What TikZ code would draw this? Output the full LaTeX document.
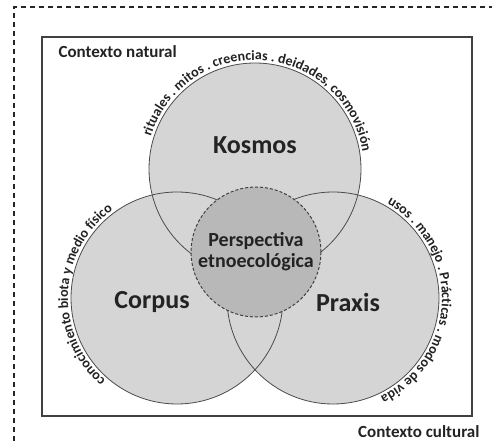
\documentclass[tikz,border=0pt]{standalone}
\usepackage{fontspec}
\setmainfont{Carlito}
\usetikzlibrary{decorations.text}

\definecolor{vennfill}{RGB}{213,213,213}
\definecolor{corefill}{RGB}{184,184,184}
\definecolor{inkgray}{RGB}{35,35,35}

\tikzset{
	venn/.style={circle, fill=vennfill, minimum size=212pt, inner sep=0pt},
	vennline/.style={draw=black!70, line width=0.8pt},
	bigtext/.style={font=\fontsize{26}{26}\selectfont\bfseries, text=inkgray},
	smalltext/.style={font=\fontsize{17}{17}\selectfont\bfseries, text=inkgray},
	arctext/.style={decorate, decoration={text along path, text align=center,
		text={|\fontsize{14}{14}\selectfont\bfseries\color{inkgray}|#1}}}
}

\begin{document}
\begin{tikzpicture}[x=1pt, y=1pt]
		\useasboundingbox (0, 0) rectangle (492, 441);

		% contexts
		\draw [dash pattern=on 5pt off 4pt, line width=1.2pt, black!85] (14, 0)
		-- (14, 434) -- (492, 434);
		\draw [line width=1.4pt, black!75] (42, 25) rectangle (472, 404);
		\node [smalltext, anchor=base west] (natural) at (55, 383)
		{Contexto natural};
		\node [smalltext, anchor=base east] (cultural) at (483, 3)
		{Contexto cultural};

		% three circles
		\node [venn] (kosmos) at (255, 272) {};
		\node [venn] (corpus) at (177, 143) {};
		\node [venn] (praxis) at (333, 143) {};
		\foreach \c in {kosmos, corpus, praxis}
			\draw [vennline] (\c.center) circle [radius=106];

		\node [bigtext] (kosmoslabel) at (255, 296) {Kosmos};
		\node [bigtext] (corpuslabel) at (152, 139) {Corpus};
		\node [bigtext] (praxislabel) at (348, 139) {Praxis};

		% core
		\node [circle, fill=corefill, draw=black!75, dash pattern=on 3pt off 2pt,
		line width=1pt, minimum size=112pt, align=center, text=inkgray,
		font=\fontsize{20}{21}\selectfont\bfseries] (perspectiva) at (256, 189)
		{Perspectiva\\etnoecológica};

		% texts along the circles
		\path [arctext={rituales . mitos . creencias . deidades, cosmovisión}]
		([shift={(166:109)}]kosmos.center) arc [start angle=166, end angle=6,
		radius=109];
		\path [arctext={conocimiento biota y medio físico}]
		([shift={(250:109)}]corpus.center) arc [start angle=250, end angle=105,
		radius=109];
		\path [arctext={usos . manejo . Prácticas . modos de vida}]
		([shift={(74:109)}]praxis.center) arc [start angle=74, end angle=-78,
		radius=109];
\end{tikzpicture}
\end{document}
